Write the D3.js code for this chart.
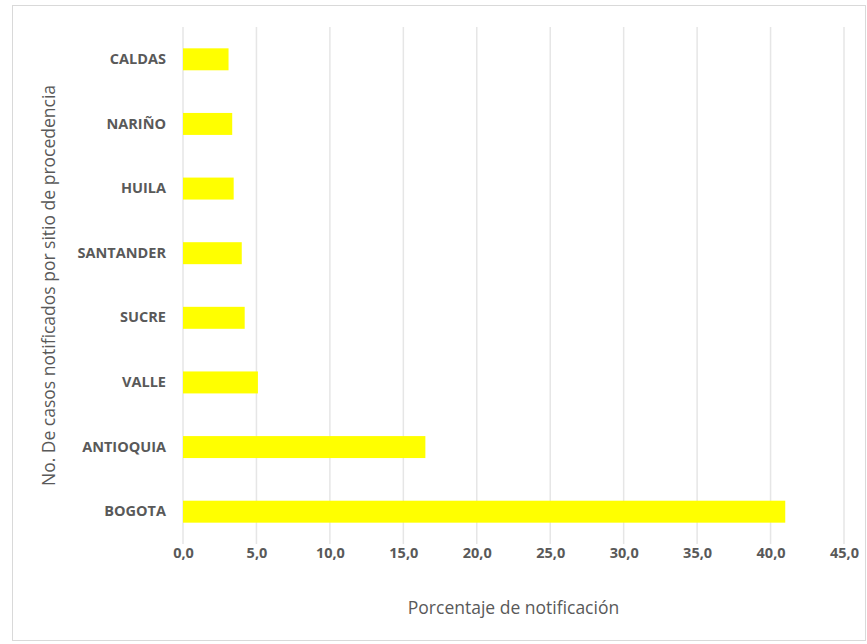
<!DOCTYPE html>
<html lang="en">
<head>
    <meta charset="UTF-8">
    <title>Casos notificados por sitio de procedencia</title>
    <script src="https://d3js.org/d3.v7.min.js"></script>
    <style>
        body { margin: 0; background: #fff; }
        text { font-family: "Open Sans", sans-serif; fill: #595959; }
    </style>
</head>
<body>
    <script>
        const categories = ["CALDAS", "NARIÑO", "HUILA", "SANTANDER", "SUCRE", "VALLE", "ANTIOQUIA", "BOGOTA"];
        const values = [3.1, 3.35, 3.45, 4.0, 4.2, 5.1, 16.5, 41.0];
        const xTicks = [0, 5, 10, 15, 20, 25, 30, 35, 40, 45];

        const width = 867;
        const height = 644;
        const margin = { top: 27, right: 23, bottom: 100, left: 183 };

        const svg = d3.select("body").append("svg")
            .attr("width", width)
            .attr("height", height);

        // chart frame
        svg.append("rect")
            .attr("x", 12.5).attr("y", 5.5)
            .attr("width", width - 14).attr("height", height - 9)
            .attr("fill", "#fff")
            .attr("stroke", "#d9d9d9");

        const x = d3.scaleLinear()
            .domain([0, 45])
            .range([margin.left, width - margin.right]);

        const y = d3.scaleBand()
            .domain(categories)
            .range([margin.top, height - margin.bottom])
            .paddingInner(0.66)
            .paddingOuter(0.33);

        // vertical gridlines
        svg.append("g")
            .selectAll("line")
            .data(xTicks)
            .enter().append("line")
            .attr("x1", d => x(d)).attr("x2", d => x(d))
            .attr("y1", margin.top).attr("y2", height - margin.bottom)
            .attr("stroke", "#e6e6e6")
            .attr("stroke-width", 1.5);

        svg.append("g")
            .selectAll("rect")
            .data(values)
            .enter().append("rect")
            .attr("x", x(0))
            .attr("y", (d, i) => y(categories[i]))
            .attr("width", d => x(d) - x(0))
            .attr("height", y.bandwidth())
            .attr("fill", "#ffff00");

        // category labels
        const yAxis = svg.append("g")
            .attr("transform", `translate(${margin.left},0)`)
            .call(d3.axisLeft(y).tickSize(0).tickPadding(17));
        yAxis.select(".domain").remove();
        yAxis.selectAll("text")
            .attr("font-size", 14.5)
            .attr("font-weight", "bold")
            .attr("font-family", "Open Sans, sans-serif")
            .attr("fill", "#595959");

        const xAxis = svg.append("g")
            .attr("transform", `translate(0,${height - margin.bottom})`)
            .call(d3.axisBottom(x).tickValues(xTicks).tickSize(0).tickPadding(4)
                .tickFormat(d => d3.format(".1f")(d).replace(".", ",")));
        xAxis.select(".domain").remove();
        xAxis.selectAll("text")
            .attr("font-size", 14.5)
            .attr("font-weight", "bold")
            .attr("font-family", "Open Sans, sans-serif")
            .attr("fill", "#595959");

        svg.append("text")
            .attr("x", (x(0) + x(45)) / 2)
            .attr("y", 614)
            .attr("text-anchor", "middle")
            .attr("font-size", 17.5)
            .text("Porcentaje de notificación");

        svg.append("text")
            .attr("transform", `translate(55,${(margin.top + height - margin.bottom) / 2}) rotate(-90)`)
            .attr("text-anchor", "middle")
            .attr("font-size", 17.5)
            .text("No. De casos notificados por sitio de procedencia");
    </script>
</body>
</html>
